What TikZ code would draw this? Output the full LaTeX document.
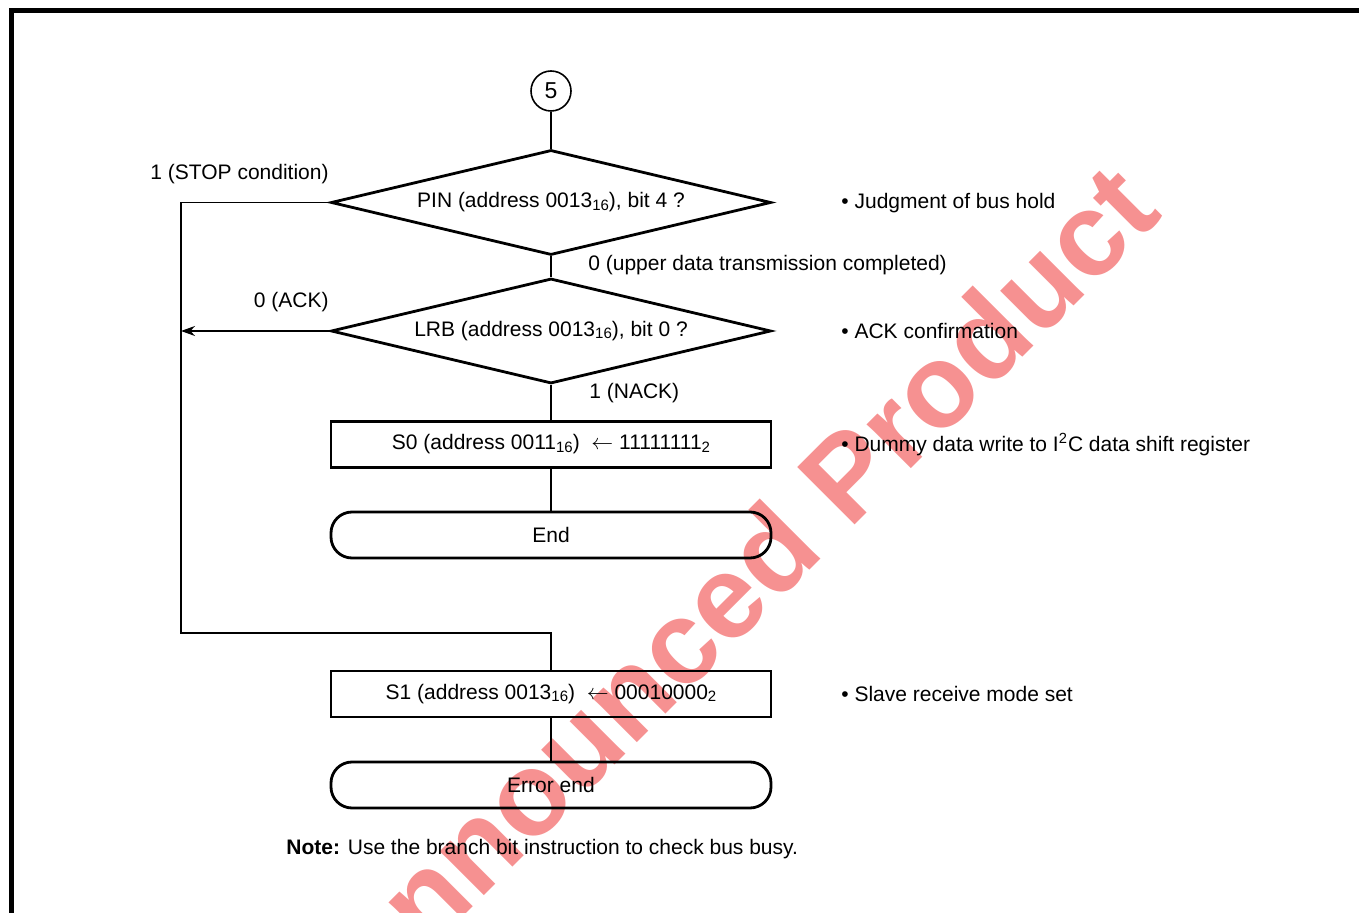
\documentclass[tikz,border=0pt]{standalone}
\usepackage{fontspec}
\setmainfont{Liberation Sans}
\usetikzlibrary{shapes,arrows.meta,positioning}

\definecolor{stampred}{RGB}{246,145,145}
\newcommand{\radix}[1]{\raisebox{-0.2ex}{\fontsize{7.5}{8}\selectfont #1}}

\tikzset{
  decision/.style={diamond, draw, line width=1.4pt, aspect=4.19, inner sep=0pt,
    minimum width=220pt, minimum height=52.5pt},
  process/.style={rectangle, draw, line width=1.1pt, inner sep=0pt,
    minimum width=220pt, minimum height=23pt},
  terminal/.style={rectangle, draw, line width=1.4pt, rounded corners=10.5pt, inner sep=0pt,
    minimum width=220pt, minimum height=23pt},
  connector/.style={circle, draw, line width=0.8pt, inner sep=0pt, minimum size=20pt},
  flow/.style={line width=0.7pt},
  remark/.style={anchor=west, inner sep=0pt},
}

\begin{document}
\begin{tikzpicture}[x=0.5pt, y=-0.5pt, font=\fontsize{10.5}{12}\selectfont]
    \useasboundingbox (0,0) rectangle (1359,913);

    % watermark
    \node[rotate=45, anchor=base east, inner sep=0pt, text=stampred,
      font=\bfseries\fontsize{59}{59}\selectfont] (stamp) at (1165,215) {Unannounced Product};

    % frame
    \draw[line width=2.5pt, line join=miter] (11.5,920) -- (11.5,10.5) -- (1365,10.5);

    % flow
    \node[connector] (five) at (551,91) {\fontsize{11.5}{12}\selectfont 5};
    \node[decision] (pin) at (551,202.5) {PIN (address 0013\radix{16}), bit 4 ?};
    \node[decision] (lrb) at (551,331) {LRB (address 0013\radix{16}), bit 0 ?};
    \node[process] (szero) at (551,444.5) {S0 (address 0011\radix{16})~~$\leftarrow$ 11111111\radix{2}};
    \node[terminal] (fin) at (551,535) {End};
    \node[process] (sone) at (551,694) {S1 (address 0013\radix{16})~~$\leftarrow$ 00010000\radix{2}};
    \node[terminal] (errfin) at (551,785) {Error end};
    \coordinate (bus) at (181,633);

    \draw[flow] (five) -- (pin);
    \draw[flow] (pin) -- (lrb);
    \draw[flow] (lrb) -- (szero);
    \draw[flow] (szero) -- (fin);
    \draw[flow] (pin.west) -| (bus) -| (sone.north);
    \draw[flow, -{Stealth[length=7pt, width=5pt]}] (lrb.west) -- (lrb.west -| bus);
    \draw[flow] (sone) -- (errfin);

    % branch labels
    \node[anchor=east, inner sep=0pt] (stoplbl) at (329,174) {1 (STOP condition)};
    \node[remark] (donelbl) at (588,265) {0 (upper data transmission completed)};
    \node[anchor=east, inner sep=0pt] (acklbl) at (329,302) {0 (ACK)};
    \node[remark] (nacklbl) at (589,393) {1 (NACK)};

    % remarks
    \node[remark] (rem1) at (841,203) {\textbullet\ Judgment of bus hold};
    \node[remark] (rem2) at (841,331) {\textbullet\ ACK confirmation};
    \node[remark] (rem3) at (841,445) {\textbullet\ Dummy data write to I\textsuperscript{2}C data shift register};
    \node[remark] (rem4) at (841,694) {\textbullet\ Slave receive mode set};

    \node[remark] (note) at (286,849) {\textbf{Note:} Use the branch bit instruction to check bus busy.};
\end{tikzpicture}
\end{document}
